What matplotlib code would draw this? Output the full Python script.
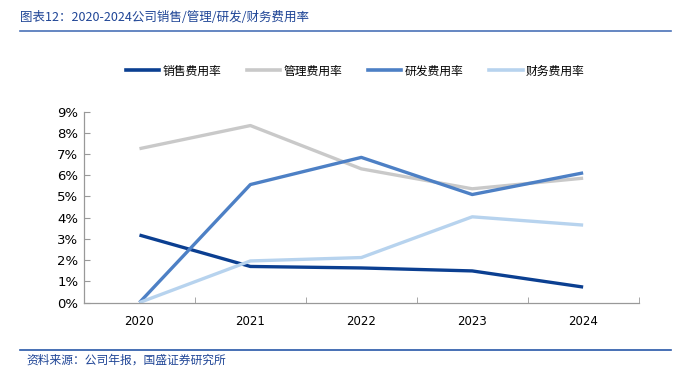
import matplotlib.pyplot as plt
from matplotlib.lines import Line2D

plt.rcParams['font.family'] = ['Noto Sans CJK SC', 'DejaVu Sans']

# data (%)
years = ["2020", "2021", "2022", "2023", "2024"]
sales = [3.18, 1.70, 1.63, 1.49, 0.73]
admin = [7.25, 8.34, 6.30, 5.36, 5.86]
rnd = [0.0, 5.56, 6.84, 5.09, 6.11]
finance = [0.0, 1.96, 2.12, 4.04, 3.65]
names = ["销售费用率", "管理费用率", "研发费用率", "财务费用率"]
colors = ["#0b3f91", "#c9c9c9", "#4d80c5", "#b7d3ee"]

fig = plt.figure(figsize=(6.83, 3.82), dpi=100)
ax = fig.add_axes([0.123, 0.208, 0.812, 0.50])

x = list(range(len(years)))
for vals, c, n in zip([sales, admin, rnd, finance], colors, names):
    ax.plot(x, vals, color=c, lw=2.4, label=n, clip_on=False, solid_capstyle='butt')

ax.set_xlim(-0.5, 4.5)
ax.set_ylim(0, 9)
ax.set_yticks(range(0, 10))
ax.set_yticklabels([f"{i}%" for i in range(0, 10)], fontsize=9.5, family='DejaVu Sans')
ax.set_xticks(x)
ax.set_xticklabels(years, fontsize=8.5, family='DejaVu Sans')
ax.set_xticks([0.5, 1.5, 2.5, 3.5, 4.5], minor=True)
ax.tick_params(axis='x', which='major', length=0, pad=9)
ax.tick_params(axis='x', which='minor', direction='in', length=4, color='#999999')
ax.tick_params(axis='y', direction='in', length=4, color='#999999', pad=4)
for s in ['top', 'right']:
    ax.spines[s].set_visible(False)
for s in ['left', 'bottom']:
    ax.spines[s].set_color('#999999')
    ax.spines[s].set_linewidth(0.9)

handles = [Line2D([], [], color=c, lw=2.6) for c in colors]
fig.legend(handles, names, loc='center', bbox_to_anchor=(0.52, 0.814), ncol=4,
           frameon=False, fontsize=8.5, handlelength=2.8, handletextpad=0.3,
           columnspacing=2.2)

# header and footer
fig.text(0.03, 0.955, "图表12：2020-2024公司销售/管理/研发/财务费用率", fontsize=9,
         color='#1f4596', style='italic', ha='left', va='center')
fig.add_artist(Line2D([0.03, 0.982], [0.918, 0.918], color='#4a72b8', lw=1.2))
fig.add_artist(Line2D([0.03, 0.982], [0.083, 0.083], color='#2857a8', lw=1.2))
fig.text(0.038, 0.058, "资料来源：公司年报，国盛证券研究所", fontsize=8.5,
         color='#1f4596', style='italic', ha='left', va='center')

fig.savefig("out.png", dpi=100)
